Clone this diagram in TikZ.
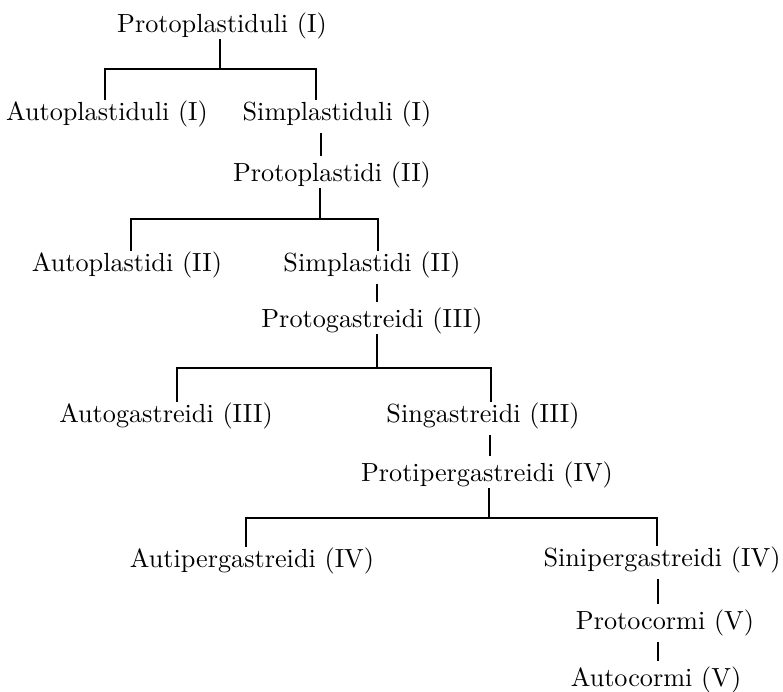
\documentclass[tikz,border=0pt]{standalone}
\begin{document}
\begin{tikzpicture}[
        x=1pt,
        y=-1pt,
        font=\fontsize{10}{12}\selectfont
    ]
    \tikzset{
        taxon/.style = {anchor=base, inner sep=0pt, scale=2.62},
        branch/.style = {-, line width=1.5pt},
        link/.style = {branch, shorten <=6pt, shorten >=5pt},
    }
        \useasboundingbox (0,0) rectangle (783,691);
        \node[taxon] at (222,32) (pp) {Protoplastiduli (I)};
        \node[taxon] at (107,120) (apl) {Autoplastiduli (I)};
        \node[taxon] at (337,120) (spl) {Simplastiduli (I)};
        \node[taxon] at (332,181) (ppd) {Protoplastidi (II)};
        \node[taxon] at (127,271) (apd) {Autoplastidi (II)};
        \node[taxon] at (372,271) (spd) {Simplastidi (II)};
        \node[taxon] at (372,327) (pg) {Protogastreidi (III)};
        \node[taxon] at (166,422) (ag) {Autogastreidi (III)};
        \node[taxon] at (483,422) (sg) {Singastreidi (III)};
        \node[taxon] at (487,481) (ppg) {Protipergastreidi (IV)};
        \node[taxon] at (252,567) (apg) {Autipergastreidi (IV)};
        \node[taxon] at (662,566) (spg) {Sinipergastreidi (IV)};
        \node[taxon] at (665,629) (pc) {Protocormi (V)};
        \node[taxon] at (656,686) (ac) {Autocormi (V)};
        %
        \coordinate (s1) at (220,69);
        \coordinate (s1l) at (105,69);
        \coordinate (s1r) at (316,69);
        \draw[branch] (pp.south -| s1) -- (s1);
        \draw[branch] (apl.north -| s1l) -- (s1l) -- (s1r) -- (spl.north -| s1r);
        \coordinate (v1) at (321,0);
        \draw[link] (spl.south -| v1) -- (ppd.north -| v1);
        %
        \coordinate (s2) at (320,219);
        \coordinate (s2l) at (131,219);
        \coordinate (s2r) at (378,219);
        \draw[branch] (ppd.south -| s2) -- (s2);
        \draw[branch] (apd.north -| s2l) -- (s2l) -- (s2r) -- (spd.north -| s2r);
        \coordinate (v2) at (377,0);
        \draw[link] (spd.south -| v2) -- (pg.north -| v2);
        %
        \coordinate (s3) at (377,368);
        \coordinate (s3l) at (177,368);
        \coordinate (s3r) at (491,368);
        \draw[branch] (pg.south -| s3) -- (s3);
        \draw[branch] (ag.north -| s3l) -- (s3l) -- (s3r) -- (sg.north -| s3r);
        \coordinate (v3) at (490,0);
        \draw[link] (sg.south -| v3) -- (ppg.north -| v3);
        %
        \coordinate (s4) at (489,518);
        \coordinate (s4l) at (246,518);
        \coordinate (s4r) at (657,518);
        \draw[branch] (ppg.south -| s4) -- (s4);
        \draw[branch] (apg.north -| s4l) -- (s4l) -- (s4r) -- (spg.north -| s4r);
        \coordinate (v4) at (658,0);
        \draw[link] (spg.south -| v4) -- (pc.north -| v4);
        \draw[link] (pc.south -| v4) -- (ac.north -| v4);
    \end{tikzpicture}
\end{document}
